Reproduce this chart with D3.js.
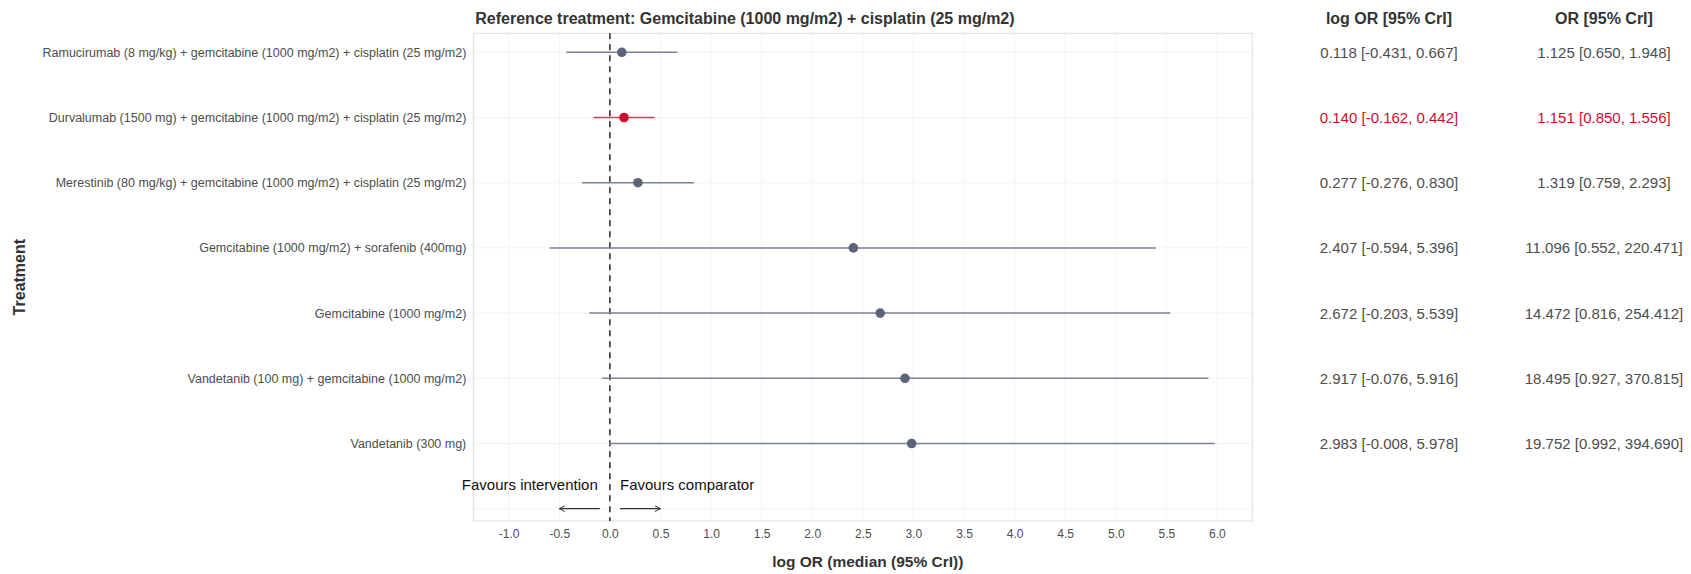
<!DOCTYPE html>
<html>
<head>
<meta charset="utf-8">
<script src="https://cdn.jsdelivr.net/npm/d3@7"></script>
<style>
  body { margin: 0; background: #fff; }
  text { font-family: "Liberation Sans", Arial, sans-serif; }
</style>
</head>
<body>
<svg width="1691" height="574"></svg>
<script>
const treatments = [
    'Ramucirumab (8 mg/kg) + gemcitabine (1000 mg/m2) + cisplatin (25 mg/m2)',
    'Durvalumab (1500 mg) + gemcitabine (1000 mg/m2) + cisplatin (25 mg/m2)',
    'Merestinib (80 mg/kg) + gemcitabine (1000 mg/m2) + cisplatin (25 mg/m2)',
    'Gemcitabine (1000 mg/m2) + sorafenib (400mg)',
    'Gemcitabine (1000 mg/m2)',
    'Vandetanib (100 mg) + gemcitabine (1000 mg/m2)',
    'Vandetanib (300 mg)'
];
const logOR = [0.118, 0.140, 0.277, 2.407, 2.672, 2.917, 2.983];
const logLow = [-0.431, -0.162, -0.276, -0.594, -0.203, -0.076, -0.008];
const logHigh = [0.667, 0.442, 0.830, 5.396, 5.539, 5.916, 5.978];
const orMed = [1.125, 1.151, 1.319, 11.096, 14.472, 18.495, 19.752];
const orLow = [0.650, 0.850, 0.759, 0.552, 0.816, 0.927, 0.992];
const orHigh = [1.948, 1.556, 2.293, 220.471, 254.412, 370.815, 394.690];
const highlighted = [false, true, false, false, false, false, false];
const xTicks = d3.range(-1, 6.01, 0.5);

const svg = d3.select('svg');

const pLeft = 473.3, pRight = 1252.3, pTop = 33.3, pBottom = 521;
const grey = '#5b6479';
const red = '#cc0c2f';

const x = d3.scaleLinear().domain([-1.35, 6.35]).range([pLeft, pRight]);
const y = d3.scaleLinear().domain([1, 8]).range([52.3, 508.7]);

const rows = treatments.map((t, i) => ({
    name: t, pos: i + 1, med: logOR[i], lo: logLow[i], hi: logHigh[i],
    orM: orMed[i], orL: orLow[i], orH: orHigh[i], hl: highlighted[i]
}));

// grid
const grid = svg.append('g');
grid.selectAll('line.v')
    .data(xTicks)
    .join('line')
    .attr('class', 'v')
    .attr('x1', d => x(d)).attr('x2', d => x(d))
    .attr('y1', pTop).attr('y2', pBottom)
    .attr('stroke', '#f2f2f2').attr('stroke-width', 1);
grid.selectAll('line.h')
    .data(d3.range(1, 9))
    .join('line')
    .attr('class', 'h')
    .attr('x1', pLeft).attr('x2', pRight)
    .attr('y1', d => y(d)).attr('y2', d => y(d))
    .attr('stroke', '#f2f2f2').attr('stroke-width', 1);

svg.append('rect')
    .attr('x', pLeft).attr('y', pTop)
    .attr('width', pRight - pLeft).attr('height', pBottom - pTop)
    .attr('fill', 'none').attr('stroke', '#e3e3e3').attr('stroke-width', 1.2);

// reference line
svg.append('line')
    .attr('x1', x(0)).attr('x2', x(0))
    .attr('y1', pTop).attr('y2', pBottom)
    .attr('stroke', '#333').attr('stroke-width', 1.6)
    .attr('stroke-dasharray', '6,5');

// intervals and points
svg.append('g').selectAll('line')
    .data(rows)
    .join('line')
    .attr('x1', d => x(d.lo)).attr('x2', d => x(d.hi))
    .attr('y1', d => y(d.pos)).attr('y2', d => y(d.pos))
    .attr('stroke', d => d.hl ? '#dc3a58' : '#7a8296')
    .attr('stroke-width', 1.5);

svg.append('g').selectAll('circle')
    .data(rows)
    .join('circle')
    .attr('cx', d => x(d.med)).attr('cy', d => y(d.pos))
    .attr('r', 4.8)
    .attr('fill', d => d.hl ? red : grey);

// favours annotation
const arrowY = y(8);
svg.append('defs').append('marker')
    .attr('id', 'head')
    .attr('viewBox', '0 0 10 10')
    .attr('refX', 9).attr('refY', 5)
    .attr('markerWidth', 7).attr('markerHeight', 7)
    .attr('markerUnits', 'userSpaceOnUse')
    .attr('orient', 'auto')
    .append('path')
    .attr('d', 'M1,1 L9,5 L1,9')
    .attr('fill', 'none').attr('stroke', '#333').attr('stroke-width', 1.4);

[[-0.1, -0.5], [0.1, 0.5]].forEach(([a, b]) => svg.append('line')
    .attr('x1', x(a)).attr('x2', x(b))
    .attr('y1', arrowY).attr('y2', arrowY)
    .attr('stroke', '#333').attr('stroke-width', 1.3)
    .attr('marker-end', 'url(#head)'));

svg.append('text')
    .attr('x', x(-0.12)).attr('y', 490)
    .attr('text-anchor', 'end')
    .attr('font-size', 15).attr('fill', '#111')
    .text('Favours intervention');
svg.append('text')
    .attr('x', x(0.1)).attr('y', 490)
    .attr('font-size', 15).attr('fill', '#111')
    .text('Favours comparator');

// axes
const xAxis = svg.append('g')
    .attr('transform', `translate(0,${pBottom})`)
    .call(d3.axisBottom(x).tickValues(xTicks).tickFormat(d3.format('.1f')).tickSize(0).tickPadding(8));
xAxis.select('.domain').remove();
xAxis.selectAll('text').attr('font-size', 12).attr('fill', '#4d4d4d')
    .style('font-family', '"Liberation Sans", Arial, sans-serif')
    .text(d => d3.format('.1f')(d).replace('−', '-'));

const yAxis = svg.append('g')
    .attr('transform', `translate(${pLeft},0)`)
    .call(d3.axisLeft(y).tickValues(d3.range(1, 8)).tickFormat(d => treatments[d - 1]).tickSize(0).tickPadding(7));
yAxis.select('.domain').remove();
yAxis.selectAll('text').attr('font-size', 12.5).attr('fill', '#4d4d4d')
    .style('font-family', '"Liberation Sans", Arial, sans-serif');

// titles
svg.append('text')
    .attr('x', pLeft + 2).attr('y', 24)
    .attr('font-size', 16).attr('font-weight', 'bold').attr('fill', '#333')
    .text('Reference treatment: Gemcitabine (1000 mg/m2) + cisplatin (25 mg/m2)');

svg.append('text')
    .attr('x', (pLeft + pRight) / 2 + 5).attr('y', 566.5)
    .attr('text-anchor', 'middle')
    .attr('font-size', 15.5).attr('font-weight', 'bold').attr('fill', '#333')
    .text('log OR (median (95% CrI))');

svg.append('text')
    .attr('transform', `translate(25,${(pTop + pBottom) / 2}) rotate(-90)`)
    .attr('text-anchor', 'middle')
    .attr('font-size', 16).attr('font-weight', 'bold').attr('fill', '#333')
    .text('Treatment');

// right-hand columns
const f3 = v => d3.format('.3f')(v).replace('−', '-');
const colLog = 1389, colOR = 1604;
svg.append('text')
    .attr('x', colLog).attr('y', 24).attr('text-anchor', 'middle')
    .attr('font-size', 16).attr('font-weight', 'bold').attr('fill', '#333')
    .text('log OR [95% CrI]');
svg.append('text')
    .attr('x', colOR).attr('y', 24).attr('text-anchor', 'middle')
    .attr('font-size', 16).attr('font-weight', 'bold').attr('fill', '#333')
    .text('OR [95% CrI]');

svg.append('g').selectAll('text')
    .data(rows)
    .join('text')
    .attr('x', colLog).attr('y', d => y(d.pos) + 5.5)
    .attr('text-anchor', 'middle')
    .attr('font-size', 15)
    .attr('fill', d => d.hl ? red : '#4d4d4d')
    .text(d => `${f3(d.med)} [${f3(d.lo)}, ${f3(d.hi)}]`);

svg.append('g').selectAll('text')
    .data(rows)
    .join('text')
    .attr('x', colOR).attr('y', d => y(d.pos) + 5.5)
    .attr('text-anchor', 'middle')
    .attr('font-size', 15)
    .attr('fill', d => d.hl ? red : '#4d4d4d')
    .text(d => `${f3(d.orM)} [${f3(d.orL)}, ${f3(d.orH)}]`);
</script>
</body>
</html>
